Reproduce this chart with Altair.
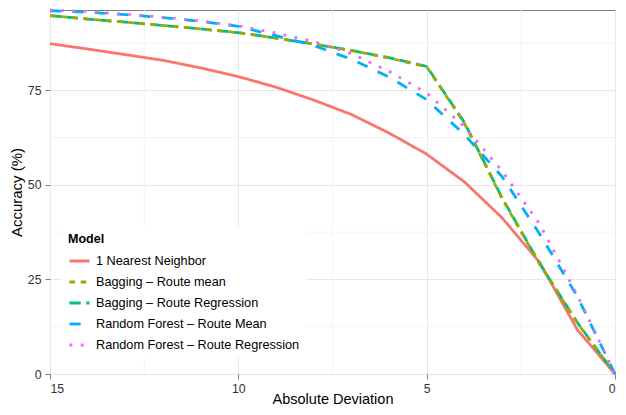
import altair as alt
import pandas as pd

deviation = list(range(0, 16))
models = [
    "1 Nearest Neighbor",
    "Bagging – Route mean",
    "Bagging – Route Regression",
    "Random Forest – Route Mean",
    "Random Forest – Route Regression",
]
nn1 = [0, 11.7, 29.5, 41.3, 50.8, 58.1, 63.7, 68.6, 72.4, 75.8, 78.6, 80.9, 82.9, 84.4, 85.9, 87.3]
bag_mean = [0, 13.5, 29.0, 46.4, 66.3, 81.2, 83.5, 85.5, 87.2, 88.8, 90.2, 91.2, 92.1, 93.0, 93.8, 94.7]
bag_reg = [0, 13.6, 29.2, 46.6, 66.5, 81.3, 83.6, 85.5, 87.2, 88.8, 90.2, 91.2, 92.1, 93.0, 93.8, 94.7]
rf_mean = [0, 20.5, 37.0, 52.2, 63.3, 72.5, 78.5, 83.2, 86.8, 89.4, 91.9, 93.2, 94.2, 95.0, 95.6, 96.0]
rf_reg = [0, 20.8, 39.6, 53.7, 65.4, 74.3, 80.0, 84.7, 87.9, 90.1, 92.0, 93.3, 94.3, 95.1, 95.8, 96.2]
series = {models[0]: nn1, models[1]: bag_mean, models[2]: bag_reg, models[3]: rf_mean, models[4]: rf_reg}

colors = ["#F8766D", "#A3A500", "#00BF7D", "#00B0F6", "#E76BF3"]
dashes = [[1, 0], [5.6, 5.6], [11.2, 5.6], [11.2, 11.2], [2.8, 8.4]]

x_ticks = [0, 5, 10, 15]
y_ticks = [0, 25, 50, 75]
x_minor = [2.5, 7.5, 12.5]
y_minor = [12.5, 37.5, 62.5, 87.5]

# drawing order (olive dashes drawn over the green long dashes)
draw_order = [models[0], models[2], models[1], models[3], models[4]]
rows = []
for m in draw_order:
    for d, v in zip(deviation, series[m]):
        rows.append({"Model": m, "Deviation": d, "Accuracy": v})
df = pd.DataFrame(rows)

xscale = alt.Scale(domain=[0, 15], reverse=True, nice=False, zero=False)
yscale = alt.Scale(domain=[0, 96.2], nice=False, zero=True)
x_axis = alt.Axis(values=x_ticks, format="d", title="Absolute Deviation",
                  labelPadding=3, titleY=29.5, titleBaseline="alphabetic",
                  titleFontSize=14.5)
y_axis = alt.Axis(values=y_ticks, format="d", title="Accuracy (%)",
                  labelPadding=4, titlePadding=3)

minor_x = alt.Chart(pd.DataFrame({"v": x_minor})).mark_rule(color="#F3F3F3", strokeWidth=1).encode(
    x=alt.X("v:Q", scale=xscale, axis=x_axis, title="Absolute Deviation")
)
minor_y = alt.Chart(pd.DataFrame({"v": y_minor})).mark_rule(color="#F3F3F3", strokeWidth=1).encode(
    y=alt.Y("v:Q", scale=yscale, axis=y_axis, title="Accuracy (%)")
)

leg = dict(
    orient="none", legendX=12, legendY=217, title="Model",
    titleFontSize=12.5, titleFontWeight="bold", titleColor="black",
    labelFontSize=12.7, labelColor="black", labelLimit=0,
    symbolType="stroke", symbolSize=400, symbolStrokeWidth=2.8,
    fillColor="white", padding=6, rowPadding=2, labelOffset=5, titlePadding=4,
)

lines = alt.Chart(df).mark_line(strokeWidth=2.8, strokeCap="butt").encode(
    x=alt.X("Deviation:Q", scale=xscale, axis=x_axis, title="Absolute Deviation"),
    y=alt.Y("Accuracy:Q", scale=yscale, axis=y_axis, title="Accuracy (%)"),
    color=alt.Color("Model:N", scale=alt.Scale(domain=models, range=colors),
                    sort=models, legend=alt.Legend(**leg)),
    strokeDash=alt.StrokeDash("Model:N", scale=alt.Scale(domain=models, range=dashes),
                              sort=models, legend=alt.Legend(**leg)),
)

chart = alt.layer(minor_x, minor_y, lines).properties(
    width=565, height=364,
    padding={"left": 42, "top": 2, "right": 3, "bottom": 33},
    autosize=alt.AutoSizeParams(type="none"),
).configure(
    font="Liberation Sans",
).configure_view(
    stroke="#7F7F7F", strokeWidth=1,
).configure_axis(
    domain=False, grid=True, gridColor="#E8E8E8", gridWidth=1,
    tickColor="#7F7F7F", tickSize=5, tickWidth=1,
    labelFontSize=12.3, labelColor="#333333",
    titleFontSize=15, titleFontWeight="normal", titleColor="black",
)

chart.save("out.html", embed_options={"renderer": "svg", "actions": False})
